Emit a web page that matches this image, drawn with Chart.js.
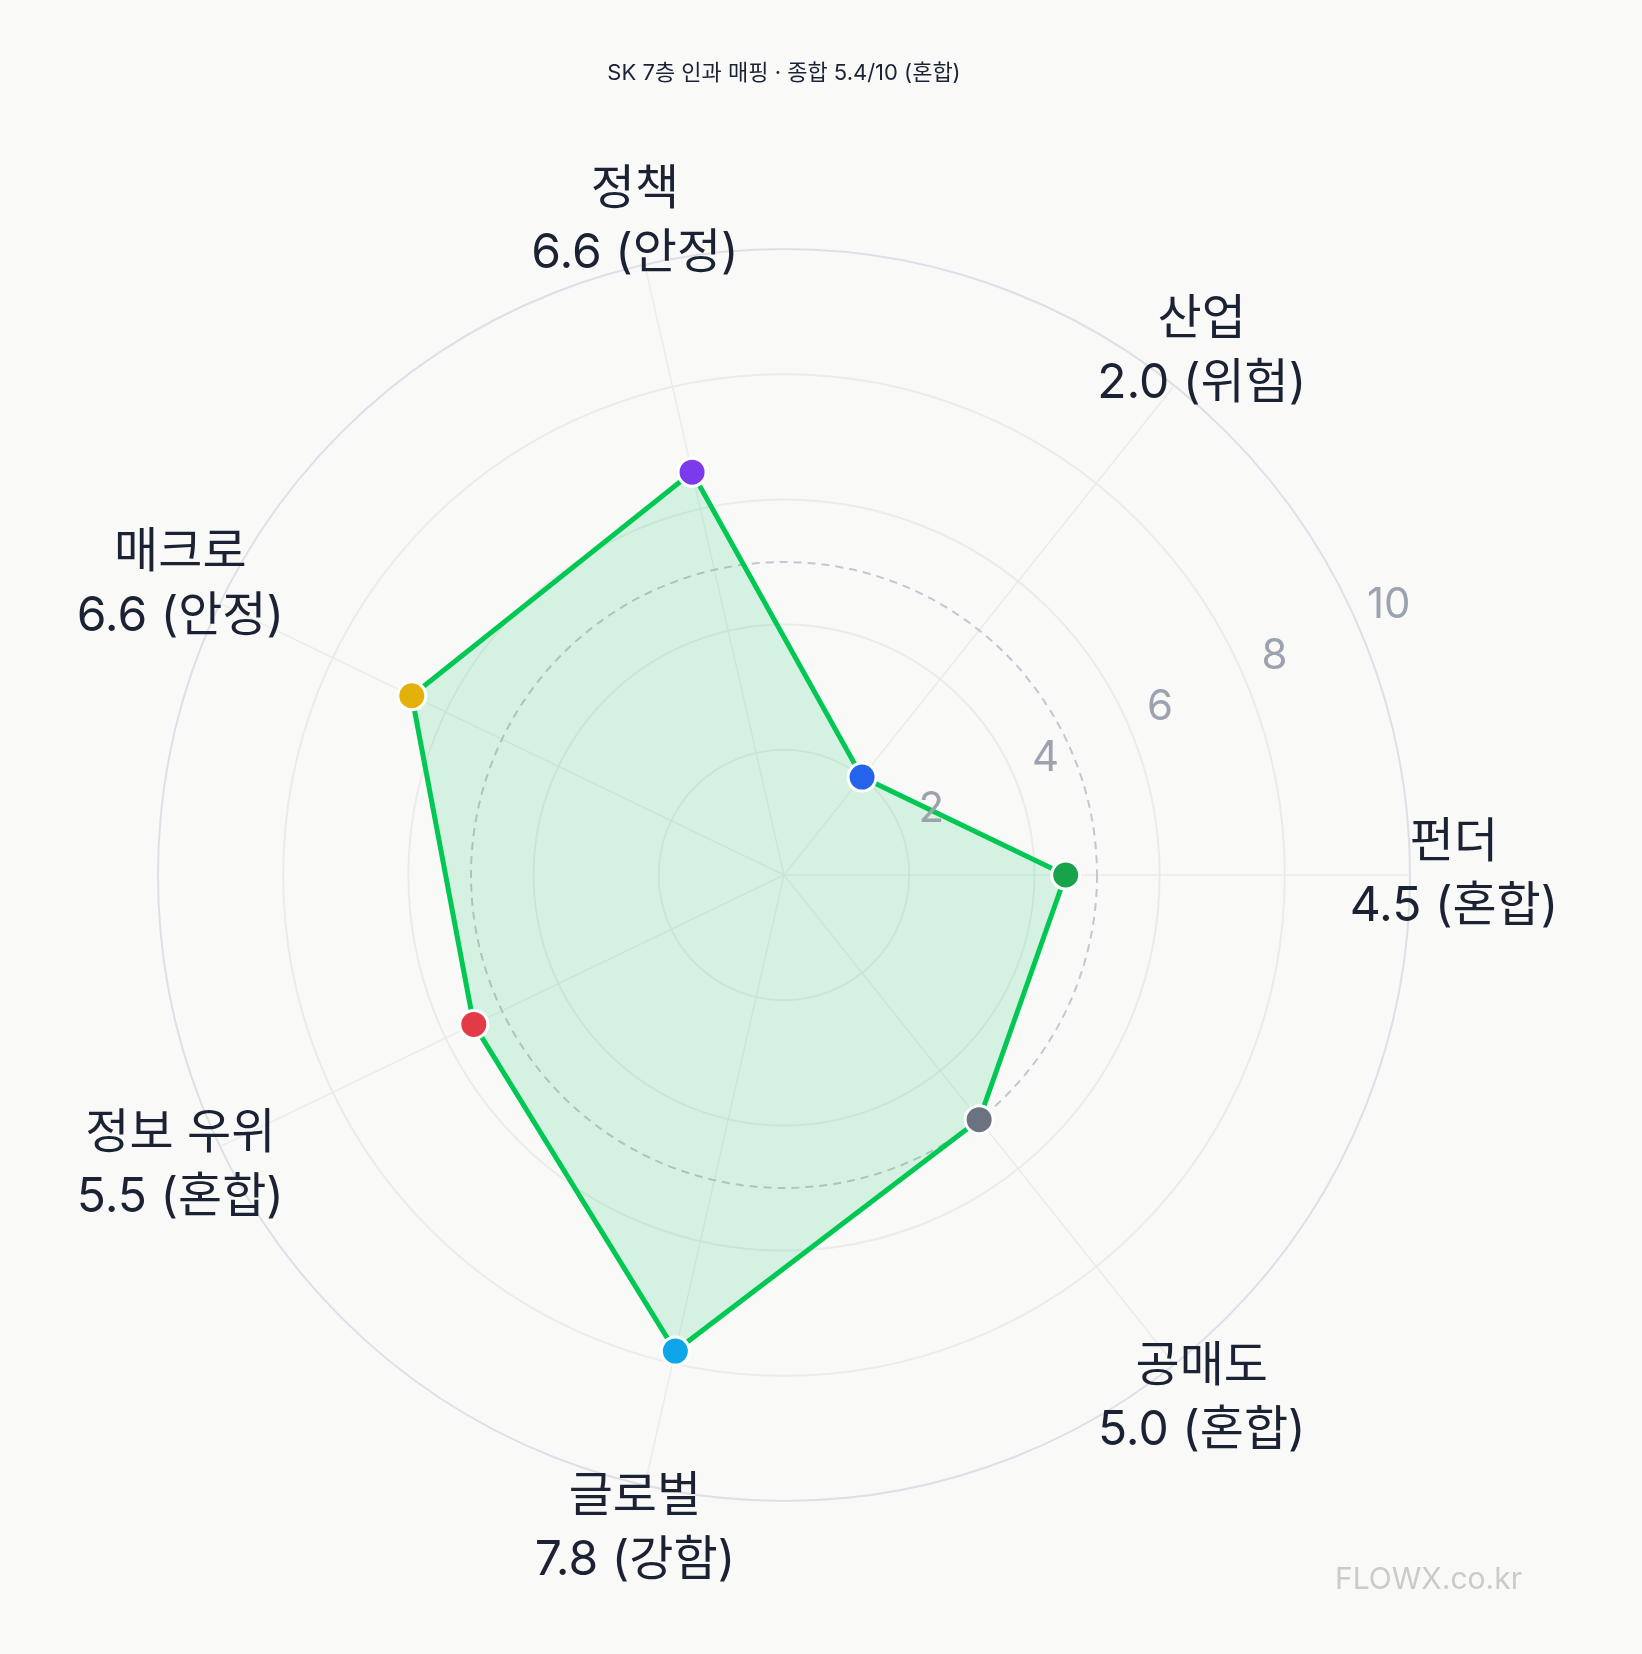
<!DOCTYPE html>
<html><head><meta charset="utf-8">
<script src="https://cdn.jsdelivr.net/npm/chart.js@4"></script>
<style>html,body{margin:0;background:#f9f9f8}#w{width:1642px;height:1654px}</style>
</head><body><div id="w"><canvas id="c"></canvas></div>
<script>
const categories = ['펀더','공매도','글로벌','정보 우위','매크로','정책','산업'];
const values = [4.5, 5.0, 7.8, 5.5, 6.6, 6.6, 2.0];
const statusText = ['혼합','혼합','강함','혼합','안정','안정','위험'];
const pointColors = ['#16a34a','#6b7280','#0ea5e9','#e23a47','#e3b10a','#7c3aed','#2563eb'];
const tickValues = [2,4,6,8,10];
const referenceValue = 5;
const titleText = 'SK 7층 인과 매핑 · 종합 5.4/10 (혼합)';

const labels = categories.map((c,i)=>[c, values[i].toFixed(1)+' ('+statusText[i]+')']);
const FONT = "Inter, 'Noto Sans CJK KR', sans-serif";

const extras = {
  id:'extras',
  beforeDatasetsDraw(chart){
    const s = chart.scales.r, ctx = chart.ctx;
    ctx.save();
    ctx.setLineDash([8,6]); ctx.lineWidth=2; ctx.strokeStyle='#c3c7cf';
    ctx.beginPath(); ctx.arc(s.xCenter, s.yCenter, s.getDistanceFromCenterForValue(referenceValue), 0, Math.PI*2); ctx.stroke();
    ctx.restore();
  },
  afterDraw(chart){
    const s = chart.scales.r, ctx = chart.ctx;
    ctx.save();
    ctx.fillStyle='#9ca3af'; ctx.font='42px '+FONT; ctx.textAlign='center'; ctx.textBaseline='middle';
    const ang = (66-90)*Math.PI/180;
    tickValues.forEach(v=>{
      const d = s.getDistanceFromCenterForValue(v)+36;
      ctx.fillText(String(v), s.xCenter+d*Math.cos(ang), s.yCenter+d*Math.sin(ang));
    });
    ctx.fillStyle='#1a2233'; ctx.font='48px '+FONT;
    const R = s.getDistanceFromCenterForValue(10)+44;
    labels.forEach((lines,i)=>{
      const a = s.getIndexAngle(i) - Math.PI/2;
      const x = s.xCenter+R*Math.cos(a), y = s.yCenter+R*Math.sin(a);
      ctx.fillText(lines[0], x, y-32);
      ctx.fillText(lines[1], x, y+32);
    });
    ctx.fillStyle='#cbcbc7'; ctx.font='30px '+FONT; ctx.textAlign='left';
    ctx.fillText('FLOWX.co.kr', 1335, 1580);
    ctx.restore();
  }
};

new Chart(document.getElementById('c'), {
  type:'radar',
  data:{labels, datasets:[{data:values, borderColor:'#00c853', borderWidth:5,
    backgroundColor:'rgba(0,200,83,0.14)', fill:true,
    pointBackgroundColor:pointColors, pointBorderColor:'#ffffff', pointBorderWidth:3,
    pointRadius:14, pointHoverRadius:14}]},
  options:{responsive:true, maintainAspectRatio:false, animation:false,
    layout:{padding:{top:0,bottom:152,left:158,right:232}},
    plugins:{legend:{display:false}, tooltip:{enabled:false},
      title:{display:true, text:titleText, color:'#1a2233', font:{family:FONT,size:22,weight:'normal'}, padding:{top:60,bottom:162}}},
    scales:{r:{min:0,max:10,startAngle:90,
      ticks:{stepSize:2, display:false},
      grid:{circular:true, color:(c)=> c.tick && c.tick.value===10 ? '#dfe0e6' : '#ebebeb', lineWidth:2},
      angleLines:{color:'#ebebeb', lineWidth:1.5},
      pointLabels:{display:false}
    }}
  },
  plugins:[extras]
});
</script></body></html>
